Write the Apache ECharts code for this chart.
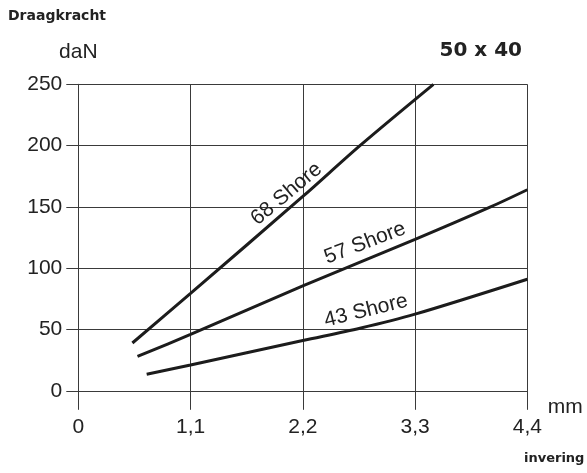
<!DOCTYPE html>
<html>
<head>
<meta charset="utf-8">
<script src="https://cdn.jsdelivr.net/npm/echarts@6/dist/echarts.min.js"></script>
<style>
html,body{margin:0;padding:0;background:#fff;}
#chart{width:587px;height:473px;}
</style>
</head>
<body>
<div id="chart"></div>
<script>
// ---- data ----
var xTickLabels = ['0', '1,1', '2,2', '3,3', '4,4'];
var yTickValues = [0, 50, 100, 150, 200, 250];
var shore68 = [[0.53, 39], [1.1, 79.5], [2.2, 158.5], [2.76, 200], [3.48, 250]];
var shore57 = [[0.58, 28], [1.1, 46], [2.2, 85.5], [3.3, 123.5], [4.04, 150], [4.4, 164]];
var shore43 = [[0.67, 13.5], [1.1, 21], [2.2, 41], [2.76, 51], [3.3, 62.5], [4.4, 91]];
var seriesNames = ['68 Shore', '57 Shore', '43 Shore'];
var labelPos = [[2.04, 160.5], [2.81, 120.5], [2.82, 65.3]];
var labelAngle = [40, 21, 14];

var chart = echarts.init(document.getElementById('chart'), null, {renderer: 'canvas'});
var lineColor = '#1c1c1c';
var gridColor = '#3a3a3a';
var txt = '#222';
var sans = '"Liberation Sans", Arial, sans-serif';

function mkSeries(name, data, idx) {
  return {
    name: name,
    type: 'line',
    data: data,
    smooth: 0.3,
    showSymbol: false,
    symbol: 'none',
    lineStyle: {color: lineColor, width: 3, cap: 'butt'},
    silent: true,
    markPoint: {
      symbol: 'circle',
      symbolSize: 0,
      silent: true,
      data: [{
        coord: labelPos[idx],
        label: {
          show: true,
          formatter: name,
          position: 'inside',
          rotate: labelAngle[idx],
          color: txt,
          fontFamily: sans,
          fontSize: 21
        }
      }]
    }
  };
}

chart.setOption({
  animation: false,
  backgroundColor: '#fff',
  grid: {left: 78.3, right: 59.7, top: 84.3, bottom: 82.2, containLabel: false},
  xAxis: [{
    type: 'value',
    min: 0, max: 4.4, interval: 1.1,
    position: 'bottom',
    name: 'mm',
    nameLocation: 'end',
    nameGap: 14,
    nameTextStyle: {color: txt, fontFamily: sans, fontSize: 21, align: 'left', verticalAlign: 'top', padding: [6, 0, 0, 0]},
    axisLine: {show: true, onZero: false, lineStyle: {color: gridColor, width: 1}},
    axisTick: {show: true, length: 19, lineStyle: {color: gridColor, width: 1}},
    axisLabel: {
      color: txt, fontFamily: sans, fontSize: 21, margin: 26,
      formatter: function (v, i) { return xTickLabels[i]; }
    },
    splitLine: {show: true, lineStyle: {color: gridColor, width: 1}}
  }, {
    type: 'value',
    min: 0, max: 4.4, interval: 1.1,
    position: 'top',
    axisLine: {show: false},
    axisTick: {show: true, length: 13, lineStyle: {color: gridColor, width: 1}},
    axisLabel: {show: false},
    splitLine: {show: false}
  }],
  yAxis: {
    type: 'value',
    min: yTickValues[0], max: yTickValues[yTickValues.length - 1], interval: 50,
    name: 'daN',
    nameLocation: 'end',
    nameGap: 22,
    nameTextStyle: {color: txt, fontFamily: sans, fontSize: 21, align: 'center'},
    axisLine: {show: true, lineStyle: {color: gridColor, width: 1}},
    axisTick: {show: true, length: 12, lineStyle: {color: gridColor, width: 1}},
    axisLabel: {color: txt, fontFamily: sans, fontSize: 21, margin: 16},
    splitLine: {show: true, lineStyle: {color: gridColor, width: 1}}
  },
  graphic: [
    {type: 'text', left: 8, top: 9, style: {text: 'Draagkracht', fill: txt, font: 'bold 14px "DejaVu Sans", sans-serif'}},
    {type: 'text', right: 65, top: 41, style: {text: '50 x 40', fill: txt, font: 'bold 20px "DejaVu Sans", sans-serif'}},
    {type: 'text', left: 524, top: 452, style: {text: 'invering', fill: txt, font: 'bold 13px "DejaVu Sans", sans-serif'}}
  ],
  series: [
    mkSeries(seriesNames[0], shore68, 0),
    mkSeries(seriesNames[1], shore57, 1),
    mkSeries(seriesNames[2], shore43, 2)
  ]
});
</script>
</body>
</html>
